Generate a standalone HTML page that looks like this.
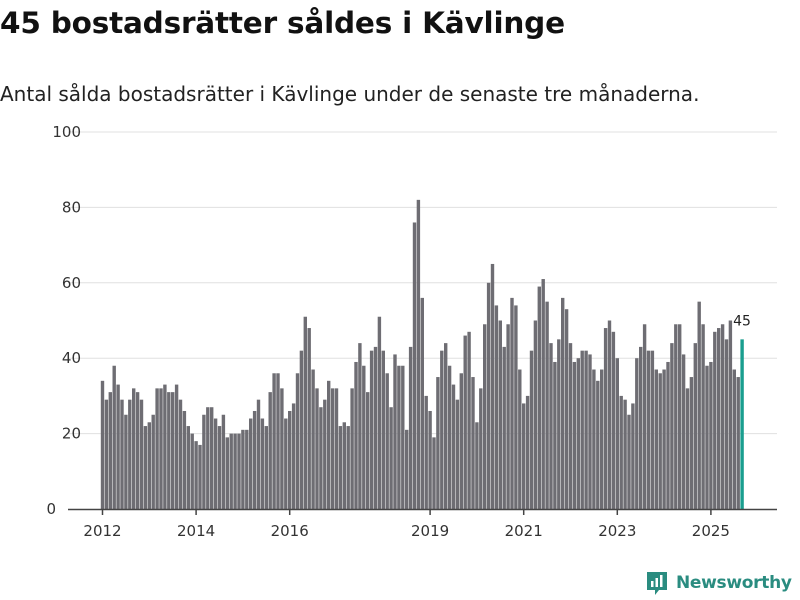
<!DOCTYPE html>
<html><head><meta charset="utf-8"><style>
body{margin:0;width:800px;height:600px;background:#fff;font-family:"DejaVu Sans","Liberation Sans",sans-serif;overflow:hidden;position:relative}
#title{position:absolute;left:0;top:6px;font-size:29.5px;font-weight:bold;color:#111;letter-spacing:-0.2px}
#sub{position:absolute;left:0;top:82px;font-size:20px;color:#222}
svg{position:absolute;left:0;top:0}
</style></head><body>
<div id="title">45 bostadsrätter såldes i Kävlinge</div>
<div id="sub">Antal sålda bostadsrätter i Kävlinge under de senaste tre månaderna.</div>
<svg id="chart" width="800" height="600"></svg>
<script>
const values=[34,29,31,38,33,29,25,29,32,31,29,22,
23,25,32,32,33,31,31,33,29,26,22,20,
18,17,25,27,27,24,22,25,19,20,20,20,
21,21,24,26,29,24,22,31,36,36,32,24,
26,28,36,42,51,48,37,32,27,29,34,32,
32,22,23,22,32,39,44,38,31,42,43,51,
42,36,27,41,38,38,21,43,76,82,56,30,
26,19,35,42,44,38,33,29,36,46,47,35,
23,32,49,60,65,54,50,43,49,56,54,37,
28,30,42,50,59,61,55,44,39,45,56,53,
44,39,40,42,42,41,37,34,37,48,50,47,
40,30,29,25,28,40,43,49,42,42,37,36,
37,39,44,49,49,41,32,35,44,55,49,38,
39,47,48,49,45,50,37,35,45];
const yTicks=[0,20,40,60,80,100];
const xTickYears=[2012,2014,2016,2019,2021,2023,2025];
const NS="http://www.w3.org/2000/svg";
const svg=document.getElementById('chart');
const y=v=>509-v*3.77;
const x=i=>102.5+i*3.9;
function mk(t,a){const e=document.createElementNS(NS,t);for(const k in a)e.setAttribute(k,a[k]);svg.appendChild(e);return e;}
yTicks.forEach(t=>{
 if(t>0){const g=mk('line',{x1:68,x2:777,y1:y(t),y2:y(t),stroke:'#e0e0e0','stroke-width':1});
 
 }
 const l=mk('text',{x:t===0?56:81,y:y(t)+5,'text-anchor':'end','font-size':15,fill:'#333','font-family':'DejaVu Sans, Liberation Sans, sans-serif'});
 l.textContent=t;
 
 
});
values.forEach((v,i)=>{
 const last=i===values.length-1;
 const r=mk('rect',{x:x(i)-1.7,y:y(v),width:3.4,height:509-y(v),fill:last?'#1a9e8f':'#6e6d73'});
 
 
});
const li=values.length-1;
const vl=mk('text',{x:x(li)-9,y:y(values[li])-14,'font-size':14,fill:'#222','font-family':'DejaVu Sans, Liberation Sans, sans-serif'});
vl.textContent=values[li];


const base=mk('line',{x1:68,x2:777,y1:509.5,y2:509.5,stroke:'#444','stroke-width':1.5});


xTickYears.forEach(yr=>{
 const xi=x((yr-2012)*12);
 const t=mk('line',{x1:xi,x2:xi,y1:509,y2:515,stroke:'#444','stroke-width':1.5});
 
 
 const l=mk('text',{x:xi,y:536,'text-anchor':'middle','font-size':15,fill:'#333','font-family':'DejaVu Sans, Liberation Sans, sans-serif'});
 l.textContent=yr;
 
 
});
</script>
<div style="position:absolute;left:645px;top:570px;display:flex;align-items:center">
<svg width="24" height="26" style="position:static"><path d="M2 2h20v18h-8l-4 5v-5H2z" fill="#2a8c80"/><rect x="6" y="11" width="2.5" height="6" fill="#fff"/><rect x="10.5" y="8" width="2.5" height="9" fill="#fff"/><rect x="15" y="5" width="2.5" height="12" fill="#fff"/></svg>
<span style="font-size:17px;font-weight:bold;color:#2a8c80;margin-left:7px;letter-spacing:-0.3px">Newsworthy</span></div>
</body></html>
